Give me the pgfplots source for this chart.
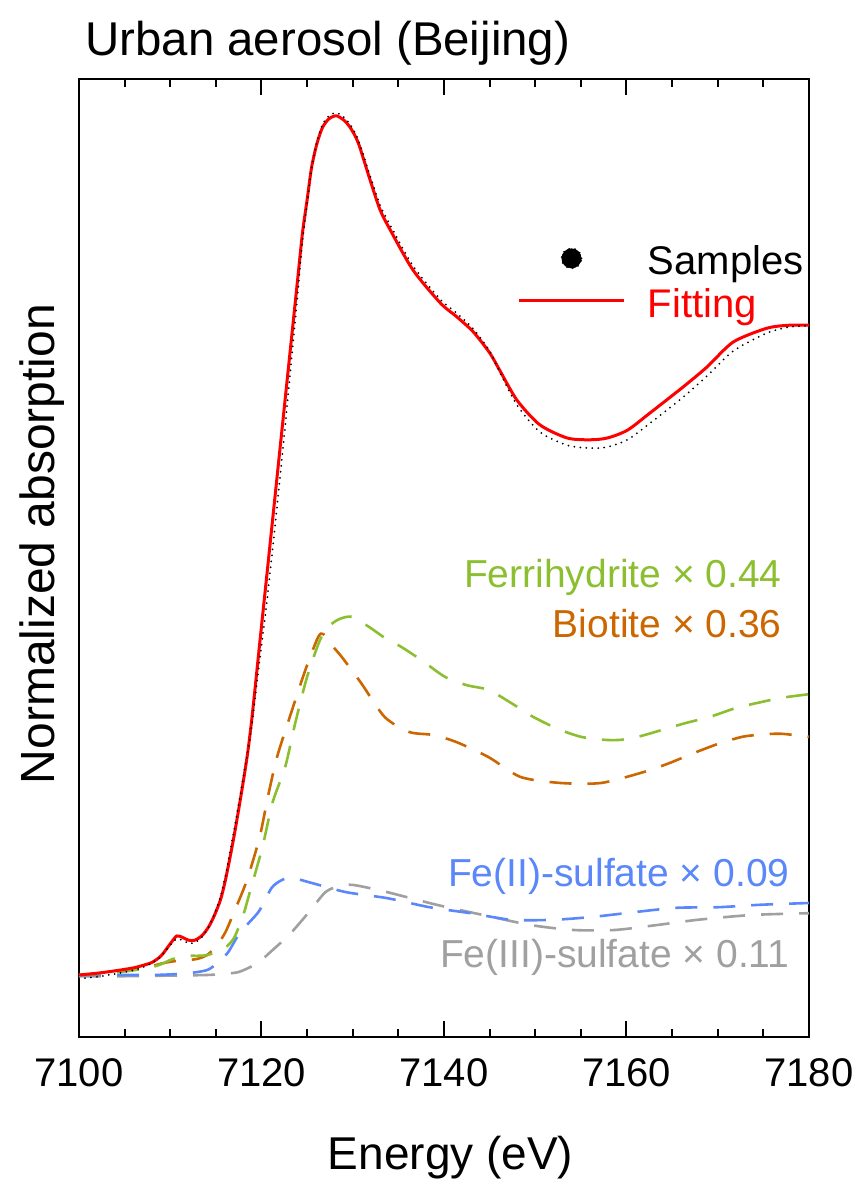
\documentclass[border=0pt]{standalone}
\usepackage{fontspec}
\setmainfont{Liberation Sans}
\usepackage{pgfplots}
\pgfplotsset{compat=1.18}
\definecolor{fhgreen}{RGB}{139,191,48}
\definecolor{btorange}{RGB}{204,102,0}
\definecolor{fe2blue}{RGB}{90,135,250}
\definecolor{fe3gray}{RGB}{160,160,160}
\pgfplotstableread{
E A
7100 0.000
7102 0.003
7104 0.007
7106 0.012
7107 0.016
7108 0.021
7109 0.032
7110 0.052
7110.7 0.065
7111.3 0.063
7112 0.058
7112.7 0.058
7113.5 0.066
7114.2 0.080
7114.8 0.098
7115.5 0.125
7116 0.155
7116.5 0.192
7117 0.232
7117.5 0.276
7118 0.322
7118.5 0.372
7119 0.435
7119.84 0.558
7120.5 0.654
7121 0.727
7121.5 0.800
7122 0.873
7122.5 0.946
7123 1.019
7123.5 1.092
7124 1.165
7124.5 1.238
7125 1.292
7125.5 1.347
7126.1 1.387
7126.7 1.413
7127.4 1.427
7128.2 1.432
7129 1.425
7129.7 1.413
7130.6 1.387
7131.9 1.325
7133 1.275
7134.1 1.242
7136.6 1.175
7139.6 1.120
7141.4 1.097
7143.2 1.072
7145 1.037
7146.1 1.008
7148 0.958
7150.5 0.917
7153.5 0.895
7156 0.892
7157.9 0.895
7160.1 0.908
7162.6 0.937
7166.2 0.980
7168.8 1.013
7171.7 1.055
7175.4 1.078
7177.9 1.083
7180 1.083
}\fitting
\pgfplotstableread{
E A
7100 -0.006
7102 -0.003
7104 0.002
7106 0.008
7107 0.013
7108 0.020
7109 0.031
7110 0.050
7110.7 0.060
7111.3 0.058
7112 0.053
7112.7 0.054
7113.5 0.064
7114.2 0.080
7114.8 0.100
7115.5 0.130
7116 0.162
7116.5 0.200
7117 0.242
7117.5 0.285
7118 0.330
7118.5 0.372
7119 0.425
7119.84 0.530
7120.5 0.610
7121 0.680
7121.5 0.750
7122 0.825
7122.5 0.900
7123 0.980
7123.5 1.060
7124 1.140
7124.5 1.225
7125 1.285
7125.5 1.345
7126.1 1.390
7126.7 1.418
7127.4 1.432
7128.2 1.437
7129 1.430
7129.7 1.418
7130.6 1.392
7131.9 1.332
7133 1.283
7134.1 1.250
7136.6 1.182
7139.6 1.126
7141.4 1.103
7143.2 1.077
7145 1.040
7146.1 1.005
7148 0.950
7150.5 0.905
7153.5 0.883
7156 0.878
7157.9 0.880
7160.1 0.892
7162.6 0.920
7166.2 0.963
7168.8 0.998
7171.7 1.040
7175.4 1.070
7177.9 1.080
7180 1.082
}\samples
\pgfplotstableread{
E A
7100 0.000
7102 0.002
7104 0.004
7106 0.008
7108 0.013
7109 0.018
7110 0.025
7111 0.030
7112 0.032
7113 0.032
7114 0.033
7115 0.038
7116 0.045
7117 0.062
7118 0.100
7118.7 0.137
7120.1 0.213
7121.2 0.287
7122.6 0.347
7123.7 0.420
7125 0.497
7126.4 0.558
7127.3 0.580
7128.5 0.593
7129.9 0.597
7131.8 0.580
7133.5 0.562
7135.3 0.547
7137.5 0.525
7140.1 0.497
7142.5 0.483
7144.9 0.475
7147.5 0.452
7149.8 0.430
7152.5 0.410
7155 0.397
7157.5 0.392
7159.4 0.392
7161.5 0.398
7163.8 0.408
7166.5 0.420
7169.1 0.430
7172 0.445
7174.8 0.455
7177 0.462
7180 0.468
}\ferri
\pgfplotstableread{
E A
7100 0.000
7102 0.002
7104 0.005
7106 0.010
7108 0.015
7109 0.019
7110 0.022
7111 0.024
7112 0.025
7113 0.027
7114 0.033
7115 0.047
7116 0.070
7117 0.105
7118.4 0.158
7119.8 0.230
7120.7 0.297
7121.7 0.363
7123.1 0.430
7124.8 0.508
7126.2 0.563
7126.8 0.568
7127.8 0.548
7128.8 0.530
7130.9 0.487
7133.5 0.430
7136.2 0.405
7138.8 0.400
7141.4 0.388
7144.9 0.363
7148.4 0.330
7152.8 0.320
7157.2 0.320
7161.6 0.337
7164.5 0.352
7167.4 0.370
7170 0.385
7172.7 0.397
7175 0.401
7177 0.402
7180 0.397
}\biotite
\pgfplotstableread{
E A
7100 0.000
7105 0.000
7108 0.000
7110 0.001
7112 0.003
7114 0.008
7115 0.018
7116.3 0.037
7117.6 0.070
7118.8 0.090
7119.8 0.108
7121.1 0.145
7122.2 0.158
7123.3 0.162
7125.6 0.153
7129.3 0.138
7133.8 0.128
7138.4 0.113
7142.9 0.103
7147.4 0.092
7152 0.092
7156.4 0.097
7161 0.105
7165.5 0.112
7170.1 0.113
7174.6 0.117
7180 0.120
}\feII
\pgfplotstableread{
E A
7100 -0.002
7105 -0.002
7110 -0.001
7114 0.000
7116 0.002
7117.5 0.005
7119 0.015
7120 0.025
7121.1 0.040
7123.1 0.068
7125.1 0.103
7127 0.138
7128.5 0.148
7130.1 0.150
7133.8 0.138
7139.2 0.117
7145.2 0.097
7149.6 0.083
7154.2 0.075
7158.7 0.075
7163.2 0.083
7167.8 0.092
7173.7 0.100
7180 0.103
}\feIII
\begin{document}
\begin{tikzpicture}
\useasboundingbox (-39.5pt,-75pt) rectangle (392.5pt,518.5pt);
\begin{axis}[
  scale only axis, width=365pt, height=479pt,
  at={(0pt,0pt)}, anchor=south west,
  xmin=7100, xmax=7180, ymin=-0.10333, ymax=1.49333,
  xtick={7100,7120,7140,7160,7180},
  xticklabels={7100,7120,7140,7160,7180},
  minor x tick num=3,
  ytick=\empty,
  xtick pos=both,
  tick align=inside,
  major tick length=8pt, minor tick length=4pt,
  axis line style={line width=1pt},
  every tick/.style={black, line width=1pt},
  xticklabel style={font=\fontsize{20}{24}\selectfont, inner sep=0pt, yshift=-10.5pt},
  xlabel={Energy (eV)},
  xlabel style={at={(axis description cs:0.509,-0.1388)}, anchor=base, inner sep=0pt, font=\fontsize{23}{27}\selectfont},
  ylabel={Normalized absorption},
  ylabel style={at={(axis description cs:-0.0329,0.5146)}, anchor=base, inner sep=0pt, font=\fontsize{24}{28}\selectfont},
  clip=false,
  reverse legend,
  legend cell align=left,
  legend style={at={(axis cs:7148.11,1.215)}, anchor=north west, draw=none, fill=none,
    inner sep=0pt, outer sep=0pt, row sep=5.5pt, column sep=11.5pt,
    font=\fontsize{20}{24}\selectfont, nodes={inner sep=0pt}},
  comp/.style={line width=1.3pt, dash pattern=on 11pt off 8pt, forget plot, smooth, tension=0.45},
]
\addplot[comp, fe3gray] table[x=E,y=A] {\feIII};
\addplot[comp, fe2blue] table[x=E,y=A] {\feII};
\addplot[comp, btorange] table[x=E,y=A] {\biotite};
\addplot[comp, fhgreen] table[x=E,y=A] {\ferri};
\addplot[red, line width=1.5pt, smooth, tension=0.45,
  legend image code/.code={\draw[red,line width=1.5pt] (0pt,2.3pt) -- (52pt,2.3pt);}]
  table[x=E,y=A] {\fitting};
\addlegendentry{\textcolor{red}{Fitting}}
\addplot[black, line width=1pt, line cap=round, dash pattern=on 0pt off 3pt, smooth, tension=0.45,
  legend image code/.code={\fill[black] (26pt,1.8pt) circle (5pt);}]
  table[x=E,y=A] {\samples};
\addlegendentry{Samples}
\node[anchor=base west, inner sep=0pt, font=\fontsize{23.7}{28}\selectfont] at (axis cs:7100.66,1.5333) {Urban aerosol (Beijing)};
\node[anchor=base east, inner sep=0pt, text=fhgreen, font=\fontsize{19.5}{23}\selectfont] at (axis cs:7177.04,0.645) {Ferrihydrite × 0.44};
\node[anchor=base east, inner sep=0pt, text=btorange, font=\fontsize{19.5}{23}\selectfont] at (axis cs:7177.04,0.5617) {Biotite × 0.36};
\node[anchor=base east, inner sep=0pt, text=fe2blue, font=\fontsize{19.5}{23}\selectfont] at (axis cs:7177.9,0.1467) {Fe(II)-sulfate × 0.09};
\node[anchor=base east, inner sep=0pt, text=fe3gray, font=\fontsize{19.5}{23}\selectfont] at (axis cs:7177.9,0.0117) {Fe(III)-sulfate × 0.11};
\end{axis}
\end{tikzpicture}
\end{document}
